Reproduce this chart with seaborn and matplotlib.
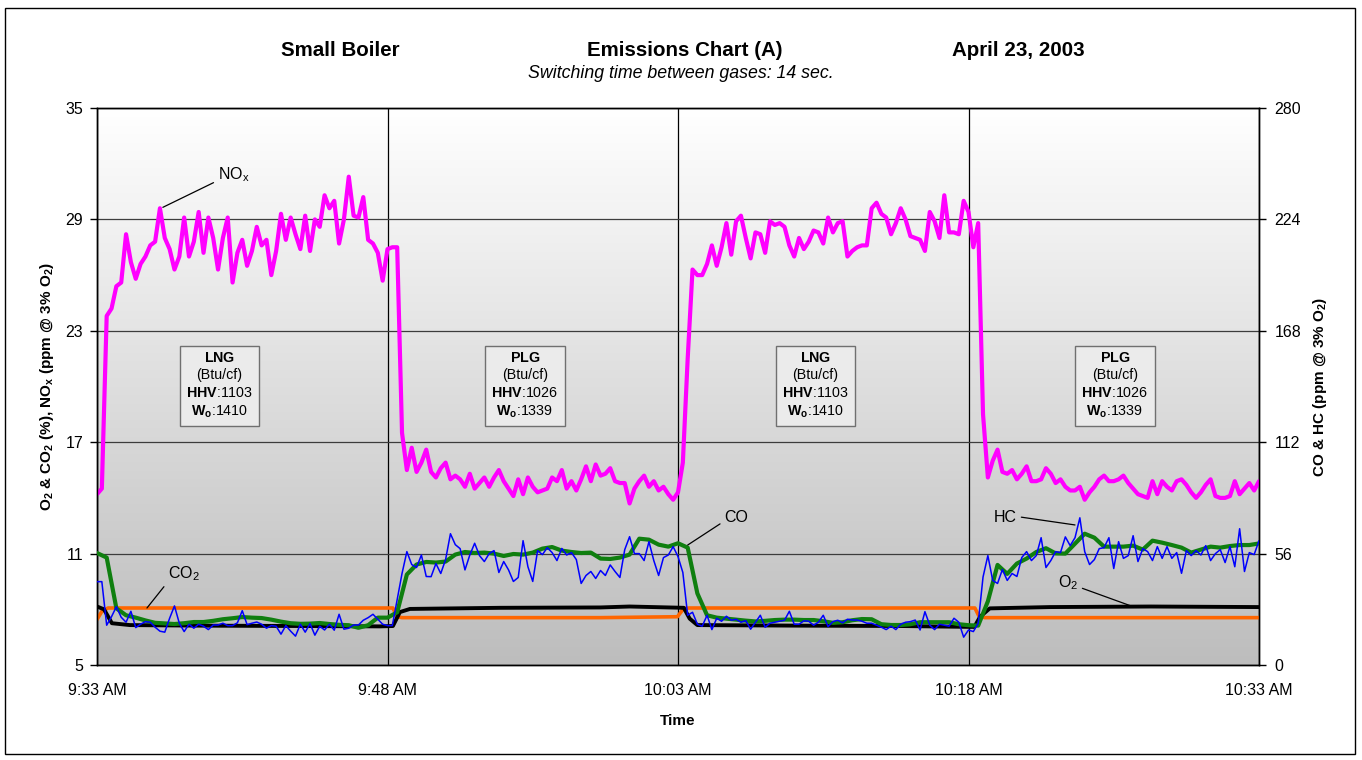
import numpy as np
import pandas as pd
import matplotlib
matplotlib.use('Agg')
import matplotlib.pyplot as plt
import seaborn as sns
from matplotlib.colors import LinearSegmentedColormap
from matplotlib.patches import Rectangle

# x axis is minutes after 9:33 AM
tick_minutes = [0, 15, 30, 45, 60]
tick_labels = ['9:33 AM', '9:48 AM', '10:03 AM', '10:18 AM', '10:33 AM']
left_ticks = [5, 11, 17, 23, 29, 35]
right_ticks = [0, 56, 112, 168, 224, 280]

# NOx (ppm @ 3% O2) and HC (ppm), read every 15 s
nox = [14.2, 14.5, 23.8, 24.2, 25.4, 25.6, 28.2, 26.7, 25.8, 26.6,
       27.0, 27.6, 27.8, 29.6, 28.0, 27.4, 26.3, 27.0, 29.1, 27.0,
       27.8, 29.4, 27.2, 29.1, 28.0, 26.3, 28.0, 29.1, 25.6, 27.2,
       27.9, 26.5, 27.3, 28.6, 27.6, 27.9, 26.0, 27.3, 29.3, 27.9,
       29.1, 28.2, 27.4, 29.2, 27.3, 29.0, 28.6, 30.3, 29.6, 30.0,
       27.7, 29.0, 31.3, 29.2, 29.1, 30.2, 27.9, 27.7, 27.2, 25.7,
       27.4,
       27.5, 27.5, 17.5, 15.5, 16.7, 15.4, 15.9, 16.6, 15.4, 15.1,
       15.6, 15.9, 15.0, 15.2, 15.0, 14.6, 15.3, 14.5, 14.8, 15.1,
       14.6, 15.1, 15.5, 14.9, 14.5, 14.1, 15.0, 14.2, 15.1, 14.6,
       14.3, 14.4, 14.5, 15.1, 14.9, 15.5, 14.5, 14.9, 14.4, 15.0,
       15.7, 14.9, 15.8, 15.2, 15.3, 15.6, 14.9, 14.8, 14.8, 13.7,
       14.5, 14.9, 15.2, 14.6, 14.9, 14.4, 14.6, 14.2, 13.9, 14.3,
       15.9, 21.5, 26.3, 26.0, 26.0, 26.6, 27.6, 26.5, 27.5, 28.8,
       27.1, 28.9, 29.2, 28.0, 26.9, 28.3, 28.2, 27.2, 28.9, 28.7,
       28.8, 28.6, 27.6, 27.0, 28.0, 27.4, 27.8, 28.4, 28.3, 27.7,
       29.1, 28.3, 28.8, 28.9, 27.0, 27.3, 27.5, 27.6, 27.6, 29.6,
       29.9, 29.3, 29.1, 28.2, 28.8, 29.6, 29.0, 28.1, 28.0, 27.9,
       27.3, 29.4, 28.9, 28.0, 30.3, 28.3, 28.3, 28.2, 30.0, 29.4,
       27.5, 28.8, 18.5, 15.1, 16.0, 16.6, 15.4, 15.3, 15.5, 15.0,
       15.3, 15.7, 14.9, 14.9, 15.0, 15.6, 15.3, 14.8, 15.0, 14.6,
       14.4, 14.4, 14.6, 13.9, 14.3, 14.6, 15.0, 15.2, 14.9, 14.9,
       15.0, 15.2, 14.8, 14.5, 14.2, 14.1, 14.0, 14.9, 14.2, 14.9,
       14.6, 14.4, 14.9, 15.0, 14.7, 14.3, 14.0, 14.3, 14.7, 15.0,
       14.1, 14.0, 14.0, 14.1, 14.9, 14.2, 14.5, 14.8, 14.4, 14.9]

hc = [41.9, 41.9, 20.0, 24.3, 29.3, 24.0, 21.5, 27.0, 18.8, 20.5,
      21.8, 21.5, 19.0, 17.0, 16.5, 23.5, 29.7, 21.0, 16.8, 20.5,
      18.5, 20.5, 19.5, 17.8, 20.1, 20.1, 21.0, 19.8, 19.8, 21.2,
      27.3, 20.3, 21.0, 21.6, 20.5, 18.5, 19.8, 19.5, 15.5, 19.8,
      17.0, 14.5, 20.5, 16.5, 20.8, 15.0, 19.5, 17.6, 20.5, 17.5,
      25.5, 18.0, 18.5, 20.1, 20.1, 22.5, 23.8, 25.5, 23.0, 20.5,
      19.8,
      19.8, 33.0, 46.0, 57.0, 50.5, 49.0, 55.3, 44.5, 44.4, 51.0,
      46.0, 53.0, 66.0, 60.5, 58.5, 47.8, 55.3, 61.2, 55.0, 52.0,
      56.0, 57.5, 46.5, 52.0, 47.8, 42.0, 44.0, 62.5, 49.4, 42.0,
      57.5, 55.5, 59.0, 56.5, 52.5, 58.6, 55.3, 56.5, 53.0, 41.0,
      45.0, 47.0, 43.5, 47.5, 45.0, 50.3, 47.0, 44.0, 58.0, 64.5,
      56.0, 56.0, 52.5, 62.0, 52.5, 45.0, 54.0, 55.3, 59.5, 54.5,
      46.5, 25.0, 26.5, 20.5, 19.5, 25.0, 17.8, 23.5, 22.0, 24.5,
      22.5, 23.0, 21.5, 22.3, 18.0, 21.5, 25.0, 19.0, 21.0, 21.5,
      22.0, 22.5, 27.0, 20.5, 20.5, 22.2, 22.0, 20.0, 21.5, 25.0,
      19.3, 21.8, 22.5, 21.2, 23.0, 22.6, 22.6, 22.0, 21.0, 21.0,
      20.0, 19.0, 17.8, 19.5, 17.8, 20.5, 21.5, 21.8, 22.6, 17.6,
      26.8, 20.0, 17.8, 20.5, 20.0, 19.5, 23.5, 21.5, 14.0, 17.6,
      16.8, 21.0, 44.2, 55.0, 42.5, 41.0, 48.0, 42.5, 46.0, 44.5,
      54.0, 57.0, 52.5, 55.0, 64.0, 49.0, 52.5, 57.0, 56.5, 64.4,
      60.0, 64.0, 74.0, 57.0, 50.5, 53.0, 58.5, 59.0, 64.0, 48.5,
      62.0, 53.6, 55.0, 65.0, 52.0, 58.5, 57.0, 52.5, 59.5, 53.6,
      59.5, 53.6, 56.5, 46.1, 57.5, 55.0, 57.5, 55.3, 60.0, 52.5,
      56.0, 58.0, 51.5, 59.5, 49.4, 68.5, 47.0, 56.5, 55.5, 62.5]

# CO (ppm), read every 30 s
co = [56.3, 54.0, 28.5, 25.0, 23.8, 22.4, 21.2, 20.9, 20.6, 21.0,
      21.6, 21.6, 22.2, 23.0, 23.5, 24.1, 23.8, 23.6, 22.8, 21.8,
      21.0, 20.7, 20.8, 21.1, 20.6, 20.2, 20.0, 18.7, 20.0, 23.8,
      23.8, 26.5, 45.5, 50.5, 51.8, 51.5, 52.0, 55.5, 56.8, 56.3,
      56.5, 56.0, 54.8, 55.8, 55.5, 56.5, 58.5, 59.3, 57.5, 56.8,
      56.3, 56.5, 53.5, 53.3, 54.0, 55.5, 63.5, 63.0, 60.5, 59.5,
      61.2, 59.0, 36.0, 25.0, 23.8, 23.3, 22.8, 22.3, 21.9, 22.2,
      22.6, 22.8, 22.8, 22.6, 22.6, 22.0, 21.2, 21.5, 22.5, 23.1,
      23.0, 20.5, 20.1, 20.1, 20.5, 21.5, 21.5, 21.5, 21.5, 20.5,
      20.0, 19.8, 32.0, 50.3, 45.8, 51.0, 53.5, 56.8, 58.7, 56.1,
      56.0, 61.0, 66.0, 64.0, 59.5, 59.5, 59.5, 60.0, 58.0, 62.5,
      61.5, 60.3, 59.0, 56.5, 58.0, 59.5, 59.0, 59.8, 60.3, 60.3,
      61.1]

# O2 and CO2 (%) are nearly flat, so only their break points are kept
o2_min = [0.0, 0.36, 0.77, 1.7, 5.3, 10.5, 14.6, 15.28, 15.64, 16.16,
          20.8, 26.0, 27.5, 30.3, 30.6, 31.0, 36.3, 41.5, 45.3, 45.6,
          46.1, 49.2, 54.4, 60.0]
o2 = [8.15, 8.0, 7.25, 7.15, 7.12, 7.1, 7.08, 7.1, 7.85, 8.02,
      8.08, 8.1, 8.15, 8.08, 7.5, 7.15, 7.12, 7.1, 7.05, 7.6,
      8.05, 8.12, 8.15, 8.12]
co2_min = [0.0, 0.26, 0.57, 15.28, 15.49, 15.75, 25.97, 29.97, 30.3, 30.6,
           45.33, 45.53, 45.84, 60.0]
co2 = [7.45, 7.9, 8.07, 8.07, 7.6, 7.55, 7.55, 7.6, 8.05, 8.07,
       8.07, 7.65, 7.55, 7.55]

gas_names = ['LNG', 'PLG', 'LNG', 'PLG']
gas_hhv = [1103, 1026, 1103, 1026]
gas_wo = [1410, 1339, 1410, 1339]
box_minutes = [6.32, 22.1, 37.09, 52.56]

fast = pd.DataFrame({'minute': np.arange(len(nox)) * 0.25, 'NOx': nox, 'HC': hc})
slow = pd.DataFrame({'minute': np.arange(len(co)) * 0.5, 'CO': co})
o2_df = pd.DataFrame({'minute': o2_min, 'O2': o2})
co2_df = pd.DataFrame({'minute': co2_min, 'CO2': co2})

sns.set_style('white')
plt.rcParams['font.family'] = ['Liberation Sans', 'DejaVu Sans']
plt.rcParams['text.color'] = 'black'
plt.rcParams['axes.labelcolor'] = 'black'
plt.rcParams['xtick.color'] = 'black'
plt.rcParams['ytick.color'] = 'black'
plt.rcParams['mathtext.fontset'] = 'custom'
plt.rcParams['mathtext.rm'] = 'Liberation Sans'
plt.rcParams['mathtext.it'] = 'Liberation Sans:italic'
plt.rcParams['mathtext.bf'] = 'Liberation Sans:bold'

fig = plt.figure(figsize=(13.62, 7.6), dpi=100)
ax = fig.add_axes([97 / 1362, 95 / 760, 1162 / 1362, 557 / 760])
ax2 = ax.twinx()

# grey gradient plot area
bg = LinearSegmentedColormap.from_list('bg', ['#bdbdbd', '#ffffff'])
ax.imshow(np.linspace(0, 1, 256).reshape(-1, 1), cmap=bg, aspect='auto',
          extent=[0, 1, 0, 1], transform=ax.transAxes, origin='lower', zorder=0)

sns.lineplot(data=co2_df, x='minute', y='CO2', ax=ax, color='#ff6600', linewidth=2.6, zorder=3)
sns.lineplot(data=o2_df, x='minute', y='O2', ax=ax, color='black', linewidth=2.8, zorder=4)
sns.lineplot(data=fast, x='minute', y='NOx', ax=ax, color='#ff00ff', linewidth=3.0, zorder=5)
sns.lineplot(data=slow, x='minute', y='CO', ax=ax2, color='#0f7f0f', linewidth=3.0, zorder=3)
sns.lineplot(data=fast, x='minute', y='HC', ax=ax2, color='#0000ff', linewidth=1.1, zorder=4)

ax.set_xlim(0, 60)
ax.set_ylim(5, 35)
ax2.set_ylim(0, 280)
ax.set_xticks(tick_minutes)
ax.set_xticklabels(tick_labels)
ax.set_yticks(left_ticks)
ax2.set_yticks(right_ticks)

ax.xaxis.grid(True, color='black', linewidth=0.9)
ax.yaxis.grid(True, color='#3c3c3c', linewidth=0.9)
for a in (ax, ax2):
    for s in a.spines.values():
        s.set_color('black')
        s.set_linewidth(1.0)
ax.tick_params(axis='both', direction='out', length=5, width=1, labelsize=11.5, colors='black')
ax.tick_params(axis='x', pad=8)
ax.tick_params(axis='y', pad=5, left=True)
ax2.tick_params(axis='y', direction='out', length=5, width=1, labelsize=11.5, pad=6, right=True,
                colors='black')

ax.set_xlabel('Time', fontsize=11, fontweight='bold')
ax.xaxis.set_label_coords(0.5, -0.088)
ax.set_ylabel('O$_\\mathbf{2}$ & CO$_\\mathbf{2}$ (%), NO$_\\mathbf{x}$ (ppm @ 3% O$_\\mathbf{2}$)',
              fontsize=11, fontweight='bold')
ax.yaxis.set_label_coords(-0.035, 0.5)
ax2.set_ylabel('CO & HC (ppm @ 3% O$_\\mathbf{2}$)', fontsize=11, fontweight='bold')
ax2.yaxis.set_label_coords(1.045, 0.5)

# gas info boxes
for m, name, hhv, wo in zip(box_minutes, gas_names, gas_hhv, gas_wo):
    txt = '$\\mathbf{%s}$\n(Btu/cf)\n$\\mathbf{HHV}$:%d\n$\\mathbf{W_o}$:%d' % (name, hhv, wo)
    ax.text(m, 20.06, txt, ha='center', va='center', fontsize=10.3, linespacing=1.33,
            zorder=6, bbox=dict(boxstyle='square,pad=0.42', fc='#ebebeb', ec='#707070', lw=1))

# series labels with leader lines
line_kw = dict(arrowstyle='-', color='black', lw=0.9, shrinkA=1, shrinkB=0)
ax.annotate('NO$_\\mathrm{x}$', xy=(3.4, 29.65), xytext=(6.25, 31.4), fontsize=11.5,
            ha='left', va='center', arrowprops=dict(line_kw, relpos=(0, 0.2)), zorder=7)
ax.annotate('CO$_\\mathrm{2}$', xy=(2.58, 8.07), xytext=(3.67, 9.9), fontsize=11.5,
            ha='left', va='center', arrowprops=dict(line_kw, relpos=(0, 0.1)), zorder=7)
ax.annotate('O$_\\mathrm{2}$', xy=(53.5, 8.14), xytext=(49.6, 9.42), fontsize=11.5,
            ha='left', va='center', arrowprops=dict(line_kw, relpos=(1, 0.3)), zorder=7)
ax2.annotate('CO', xy=(30.5, 60.3), xytext=(32.4, 73.9), fontsize=11.5,
             ha='left', va='center', arrowprops=dict(line_kw, relpos=(0, 0.3)), zorder=7)
ax2.annotate('HC', xy=(50.5, 70.4), xytext=(46.3, 73.9), fontsize=11.5,
             ha='left', va='center', arrowprops=dict(line_kw, relpos=(1, 0.6)), zorder=7)

# header
fig.text(340 / 1362, 1 - 50 / 760, 'Small Boiler', ha='center', va='center',
         fontsize=14.8, fontweight='bold')
fig.text(685 / 1362, 1 - 50 / 760, 'Emissions Chart (A)', ha='center', va='center',
         fontsize=14.8, fontweight='bold')
fig.text(1018 / 1362, 1 - 50 / 760, 'April 23, 2003', ha='center', va='center',
         fontsize=14.8, fontweight='bold')
fig.text(681 / 1362, 1 - 74 / 760, 'Switching time between gases: 14 sec.', ha='center',
         va='center', fontsize=12.8, style='italic')

fig.patches.append(Rectangle((5 / 1362, 6 / 760), 1350 / 1362, 746 / 760, transform=fig.transFigure,
                             fill=False, edgecolor='black', linewidth=1))

fig.savefig('out.png', dpi=100)
